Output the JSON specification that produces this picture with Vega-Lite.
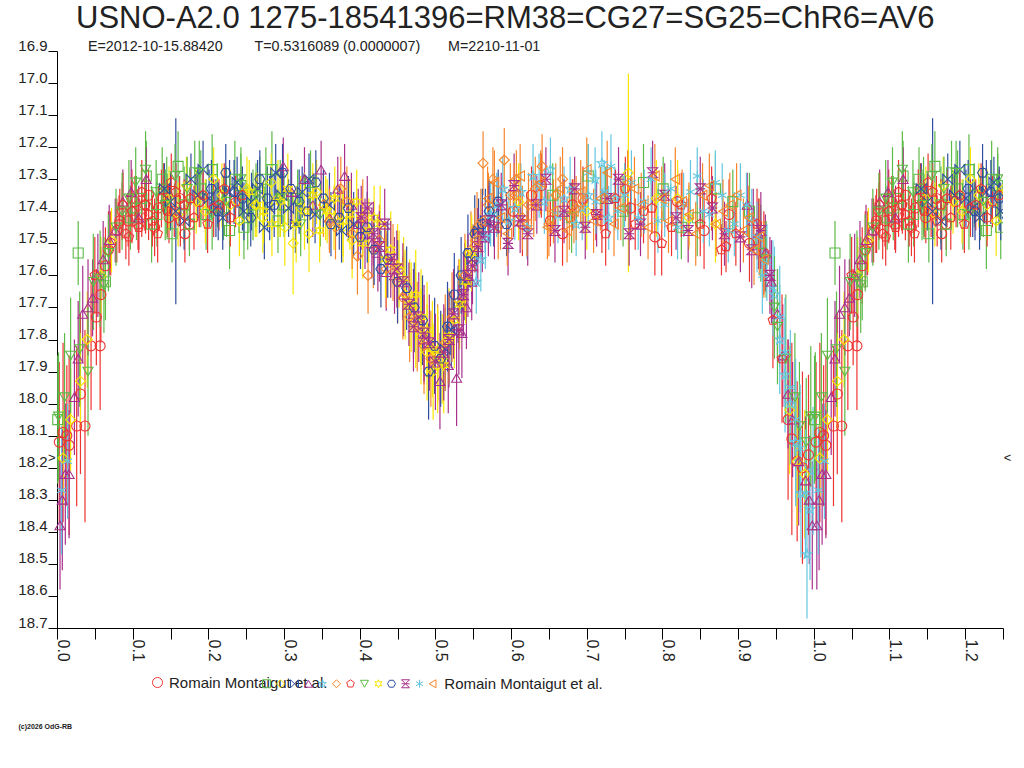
{
  "$schema": "https://vega.github.io/schema/vega-lite/v6.json",
  "width": 946,
  "height": 577,
  "autosize": {"type": "none"},
  "padding": {"left": 57, "top": 51, "right": 21, "bottom": 140},
  "background": "white",
  "title": {
    "text": "USNO-A2.0 1275-18541396=RM38=CG27=SG25=ChR6=AV6",
    "subtitle": "\u200b\u00a0\u00a0\u00a0E=2012-10-15.88420\u00a0\u00a0\u00a0\u00a0\u00a0\u00a0\u00a0\u00a0T=0.5316089 (0.0000007)\u00a0\u00a0\u00a0\u00a0\u00a0\u00a0\u00a0M=2210-11-01",
    "anchor": "start",
    "frame": "group",
    "dx": 19,
    "offset": -17,
    "font": "Liberation Sans",
    "fontSize": 31,
    "fontWeight": "normal",
    "color": "#222222",
    "subtitleFont": "Liberation Sans",
    "subtitleFontSize": 14.3,
    "subtitleColor": "#222222",
    "subtitlePadding": 5
  },
  "datasets": {
    "obs": [
      {"s":"s00","p":0.003,"m":18.12,"e":0.25},{"s":"s00","p":0.008,"m":18.09,"e":0.28},{"s":"s00","p":0.013,"m":18.10,"e":0.22},{"s":"s00","p":0.026,"m":18.07,"e":0.25},{"s":"s00","p":0.037,"m":18.07,"e":0.30},{"s":"s00","p":0.045,"m":17.82,"e":0.20},{"s":"s00","p":0.052,"m":17.73,"e":0.15},{"s":"s00","p":0.057,"m":17.82,"e":0.20},{"s":"s00","p":0.058,"m":17.66,"e":0.15},{"s":"s00","p":0.064,"m":17.57,"e":0.12},{"s":"s00","p":0.071,"m":17.50,"e":0.10},{"s":"s00","p":0.079,"m":17.46,"e":0.10},{"s":"s00","p":0.086,"m":17.40,"e":0.09},{"s":"s00","p":0.094,"m":17.43,"e":0.08},{"s":"s00","p":0.103,"m":17.37,"e":0.08},{"s":"s00","p":0.112,"m":17.41,"e":0.07},{"s":"s00","p":0.121,"m":17.35,"e":0.08},{"s":"s00","p":0.134,"m":17.39,"e":0.07},{"s":"s00","p":0.148,"m":17.42,"e":0.08},{"s":"s00","p":0.162,"m":17.36,"e":0.07},{"s":"s00","p":0.175,"m":17.44,"e":0.08},{"s":"s00","p":0.603,"m":17.40,"e":0.08},{"s":"s00","p":0.627,"m":17.35,"e":0.09},{"s":"s00","p":0.652,"m":17.43,"e":0.08},{"s":"s00","p":0.681,"m":17.38,"e":0.08},{"s":"s00","p":0.966,"m":18.05,"e":0.25},{"s":"s00","p":0.971,"m":18.11,"e":0.30},{"s":"s00","p":0.978,"m":18.18,"e":0.25},{"s":"s00","p":0.985,"m":18.20,"e":0.30},{"s":"s00","p":0.993,"m":18.16,"e":0.25},
      {"s":"s00","p":0.016,"m":18.13,"e":0.28},{"s":"s00","p":0.031,"m":17.97,"e":0.25},{"s":"s00","p":0.068,"m":17.52,"e":0.12},{"s":"s00","p":0.083,"m":17.43,"e":0.10},{"s":"s00","p":0.099,"m":17.36,"e":0.09},{"s":"s00","p":0.107,"m":17.44,"e":0.08},{"s":"s00","p":0.116,"m":17.38,"e":0.08},{"s":"s00","p":0.129,"m":17.45,"e":0.09},{"s":"s00","p":0.141,"m":17.33,"e":0.08},{"s":"s00","p":0.155,"m":17.40,"e":0.08},{"s":"s00","p":0.169,"m":17.47,"e":0.09},{"s":"s00","p":0.188,"m":17.37,"e":0.08},{"s":"s00","p":0.615,"m":17.44,"e":0.10},{"s":"s00","p":0.640,"m":17.32,"e":0.10},{"s":"s00","p":0.668,"m":17.47,"e":0.10},{"s":"s00","p":0.695,"m":17.36,"e":0.10},{"s":"s00","p":0.720,"m":17.43,"e":0.10},{"s":"s00","p":0.758,"m":17.39,"e":0.10},{"s":"s00","p":0.790,"m":17.48,"e":0.12},{"s":"s00","p":0.820,"m":17.37,"e":0.10},{"s":"s00","p":0.855,"m":17.46,"e":0.12},{"s":"s00","p":0.888,"m":17.41,"e":0.11},{"s":"s00","p":0.915,"m":17.50,"e":0.12},{"s":"s00","p":0.934,"m":17.53,"e":0.13},
      {"s":"s01","p":0.001,"m":18.05,"e":0.20},{"s":"s01","p":0.028,"m":17.53,"e":0.10},{"s":"s01","p":0.064,"m":17.62,"e":0.12},{"s":"s01","p":0.097,"m":17.42,"e":0.10},{"s":"s01","p":0.112,"m":17.36,"e":0.09},{"s":"s01","p":0.125,"m":17.44,"e":0.12},{"s":"s01","p":0.139,"m":17.30,"e":0.10},{"s":"s01","p":0.152,"m":17.47,"e":0.09},{"s":"s01","p":0.168,"m":17.38,"e":0.12},{"s":"s01","p":0.182,"m":17.28,"e":0.10},{"s":"s01","p":0.197,"m":17.41,"e":0.11},{"s":"s01","p":0.212,"m":17.35,"e":0.10},{"s":"s01","p":0.228,"m":17.46,"e":0.12},{"s":"s01","p":0.243,"m":17.32,"e":0.10},{"s":"s01","p":0.247,"m":17.45,"e":0.10},{"s":"s01","p":0.259,"m":17.38,"e":0.11},{"s":"s01","p":0.276,"m":17.30,"e":0.10},{"s":"s01","p":0.292,"m":17.43,"e":0.10},{"s":"s01","p":0.318,"m":17.36,"e":0.09},{"s":"s01","p":0.655,"m":17.35,"e":0.10},{"s":"s01","p":0.702,"m":17.29,"e":0.10},{"s":"s01","p":0.748,"m":17.40,"e":0.11},{"s":"s01","p":0.801,"m":17.33,"e":0.10},{"s":"s01","p":0.846,"m":17.42,"e":0.12},{"s":"s01","p":0.893,"m":17.37,"e":0.10},
      {"s":"s01","p":0.105,"m":17.39,"e":0.10},{"s":"s01","p":0.118,"m":17.29,"e":0.11},{"s":"s01","p":0.132,"m":17.41,"e":0.10},{"s":"s01","p":0.145,"m":17.35,"e":0.12},{"s":"s01","p":0.160,"m":17.26,"e":0.11},{"s":"s01","p":0.175,"m":17.44,"e":0.10},{"s":"s01","p":0.190,"m":17.33,"e":0.12},{"s":"s01","p":0.205,"m":17.27,"e":0.11},{"s":"s01","p":0.220,"m":17.39,"e":0.10},{"s":"s01","p":0.235,"m":17.30,"e":0.12},{"s":"s01","p":0.252,"m":17.42,"e":0.10},{"s":"s01","p":0.268,"m":17.34,"e":0.11},{"s":"s01","p":0.284,"m":17.27,"e":0.12},{"s":"s01","p":0.300,"m":17.38,"e":0.10},{"s":"s01","p":0.335,"m":17.31,"e":0.10},{"s":"s01","p":0.680,"m":17.42,"e":0.11},{"s":"s01","p":0.725,"m":17.36,"e":0.10},{"s":"s01","p":0.775,"m":17.31,"e":0.12},{"s":"s01","p":0.825,"m":17.45,"e":0.10},{"s":"s01","p":0.870,"m":17.33,"e":0.11},{"s":"s01","p":0.915,"m":17.40,"e":0.12},{"s":"s01","p":0.930,"m":17.50,"e":0.12},
      {"s":"s02","p":0.008,"m":18.17,"e":0.15},{"s":"s02","p":0.031,"m":17.93,"e":0.15},{"s":"s02","p":0.072,"m":17.49,"e":0.10},{"s":"s02","p":0.148,"m":17.36,"e":0.10},{"s":"s02","p":0.171,"m":17.32,"e":0.09},{"s":"s02","p":0.196,"m":17.40,"e":0.10},{"s":"s02","p":0.218,"m":17.35,"e":0.10},{"s":"s02","p":0.241,"m":17.43,"e":0.11},{"s":"s02","p":0.262,"m":17.38,"e":0.10},{"s":"s02","p":0.283,"m":17.31,"e":0.09},{"s":"s02","p":0.301,"m":17.45,"e":0.12},{"s":"s02","p":0.312,"m":17.50,"e":0.16},{"s":"s02","p":0.322,"m":17.39,"e":0.10},{"s":"s02","p":0.343,"m":17.34,"e":0.10},{"s":"s02","p":0.366,"m":17.42,"e":0.10},{"s":"s02","p":0.452,"m":17.58,"e":0.12},{"s":"s02","p":0.468,"m":17.70,"e":0.14},{"s":"s02","p":0.481,"m":17.79,"e":0.15},{"s":"s02","p":0.497,"m":17.90,"e":0.15},{"s":"s02","p":0.509,"m":17.86,"e":0.14},{"s":"s02","p":0.755,"m":17.28,"e":0.31},{"s":"s02","p":0.792,"m":17.36,"e":0.12},{"s":"s02","p":0.835,"m":17.42,"e":0.10},{"s":"s02","p":0.968,"m":18.02,"e":0.20},{"s":"s02","p":0.988,"m":18.22,"e":0.20},
      {"s":"s02","p":0.018,"m":18.05,"e":0.16},{"s":"s02","p":0.040,"m":17.80,"e":0.15},{"s":"s02","p":0.058,"m":17.60,"e":0.12},{"s":"s02","p":0.160,"m":17.41,"e":0.10},{"s":"s02","p":0.184,"m":17.37,"e":0.10},{"s":"s02","p":0.207,"m":17.30,"e":0.10},{"s":"s02","p":0.229,"m":17.38,"e":0.11},{"s":"s02","p":0.251,"m":17.33,"e":0.10},{"s":"s02","p":0.272,"m":17.42,"e":0.11},{"s":"s02","p":0.292,"m":17.36,"e":0.12},{"s":"s02","p":0.333,"m":17.47,"e":0.12},{"s":"s02","p":0.355,"m":17.39,"e":0.10},{"s":"s02","p":0.378,"m":17.45,"e":0.11},{"s":"s02","p":0.390,"m":17.49,"e":0.12},{"s":"s02","p":0.460,"m":17.66,"e":0.14},{"s":"s02","p":0.474,"m":17.74,"e":0.15},{"s":"s02","p":0.489,"m":17.84,"e":0.15},{"s":"s02","p":0.503,"m":17.88,"e":0.15},{"s":"s02","p":0.517,"m":17.80,"e":0.14},{"s":"s02","p":0.610,"m":17.37,"e":0.12},{"s":"s02","p":0.700,"m":17.40,"e":0.12},{"s":"s02","p":0.820,"m":17.36,"e":0.12},{"s":"s02","p":0.870,"m":17.44,"e":0.12},{"s":"s02","p":0.978,"m":18.18,"e":0.20},
      {"s":"s03","p":0.142,"m":17.33,"e":0.08},{"s":"s03","p":0.157,"m":17.40,"e":0.29},{"s":"s03","p":0.177,"m":17.30,"e":0.08},{"s":"s03","p":0.201,"m":17.36,"e":0.09},{"s":"s03","p":0.219,"m":17.42,"e":0.10},{"s":"s03","p":0.238,"m":17.31,"e":0.08},{"s":"s03","p":0.257,"m":17.37,"e":0.09},{"s":"s03","p":0.274,"m":17.45,"e":0.10},{"s":"s03","p":0.289,"m":17.28,"e":0.09},{"s":"s03","p":0.306,"m":17.39,"e":0.09},{"s":"s03","p":0.324,"m":17.34,"e":0.08},{"s":"s03","p":0.341,"m":17.41,"e":0.09},{"s":"s03","p":0.392,"m":17.44,"e":0.10},{"s":"s03","p":0.521,"m":17.77,"e":0.12},{"s":"s03","p":0.539,"m":17.62,"e":0.12},{"s":"s03","p":0.557,"m":17.46,"e":0.10},{"s":"s03","p":0.577,"m":17.41,"e":0.10},
      {"s":"s03","p":0.150,"m":17.37,"e":0.09},{"s":"s03","p":0.168,"m":17.43,"e":0.09},{"s":"s03","p":0.186,"m":17.35,"e":0.08},{"s":"s03","p":0.193,"m":17.27,"e":0.09},{"s":"s03","p":0.210,"m":17.39,"e":0.09},{"s":"s03","p":0.228,"m":17.34,"e":0.10},{"s":"s03","p":0.247,"m":17.40,"e":0.09},{"s":"s03","p":0.265,"m":17.33,"e":0.09},{"s":"s03","p":0.281,"m":17.39,"e":0.10},{"s":"s03","p":0.297,"m":17.35,"e":0.09},{"s":"s03","p":0.315,"m":17.44,"e":0.09},{"s":"s03","p":0.333,"m":17.30,"e":0.08},{"s":"s03","p":0.360,"m":17.38,"e":0.10},{"s":"s03","p":0.376,"m":17.46,"e":0.10},{"s":"s03","p":0.513,"m":17.83,"e":0.13},{"s":"s03","p":0.530,"m":17.69,"e":0.12},{"s":"s03","p":0.548,"m":17.55,"e":0.11},{"s":"s03","p":0.566,"m":17.43,"e":0.10},
      {"s":"s04","p":0.004,"m":18.38,"e":0.20},{"s":"s04","p":0.011,"m":18.22,"e":0.22},{"s":"s04","p":0.016,"m":18.22,"e":0.20},{"s":"s04","p":0.023,"m":17.98,"e":0.18},{"s":"s04","p":0.034,"m":17.72,"e":0.15},{"s":"s04","p":0.047,"m":17.67,"e":0.12},{"s":"s04","p":0.061,"m":17.55,"e":0.12},{"s":"s04","p":0.077,"m":17.46,"e":0.10},{"s":"s04","p":0.098,"m":17.34,"e":0.10},{"s":"s04","p":0.118,"m":17.30,"e":0.10},{"s":"s04","p":0.299,"m":17.26,"e":0.09},{"s":"s04","p":0.327,"m":17.30,"e":0.10},{"s":"s04","p":0.349,"m":17.27,"e":0.09},{"s":"s04","p":0.371,"m":17.33,"e":0.10},{"s":"s04","p":0.389,"m":17.38,"e":0.10},{"s":"s04","p":0.407,"m":17.47,"e":0.11},{"s":"s04","p":0.424,"m":17.53,"e":0.12},{"s":"s04","p":0.446,"m":17.60,"e":0.12},{"s":"s04","p":0.471,"m":17.72,"e":0.14},{"s":"s04","p":0.506,"m":17.93,"e":0.15},{"s":"s04","p":0.528,"m":17.92,"e":0.15},{"s":"s04","p":0.541,"m":17.70,"e":0.13},{"s":"s04","p":0.912,"m":17.38,"e":0.10},{"s":"s04","p":0.927,"m":17.47,"e":0.11},{"s":"s04","p":0.944,"m":17.62,"e":0.13},{"s":"s04","p":0.959,"m":17.85,"e":0.16},{"s":"s04","p":0.972,"m":18.05,"e":0.18},{"s":"s04","p":0.989,"m":18.24,"e":0.20},{"s":"s04","p":0.998,"m":18.38,"e":0.20},
      {"s":"s04","p":0.007,"m":18.30,"e":0.22},{"s":"s04","p":0.028,"m":17.86,"e":0.18},{"s":"s04","p":0.041,"m":17.70,"e":0.15},{"s":"s04","p":0.054,"m":17.60,"e":0.13},{"s":"s04","p":0.069,"m":17.49,"e":0.11},{"s":"s04","p":0.087,"m":17.37,"e":0.10},{"s":"s04","p":0.108,"m":17.42,"e":0.10},{"s":"s04","p":0.310,"m":17.34,"e":0.10},{"s":"s04","p":0.338,"m":17.38,"e":0.10},{"s":"s04","p":0.360,"m":17.42,"e":0.10},{"s":"s04","p":0.380,"m":17.29,"e":0.10},{"s":"s04","p":0.398,"m":17.44,"e":0.11},{"s":"s04","p":0.416,"m":17.50,"e":0.11},{"s":"s04","p":0.435,"m":17.59,"e":0.12},{"s":"s04","p":0.458,"m":17.66,"e":0.13},{"s":"s04","p":0.485,"m":17.80,"e":0.14},{"s":"s04","p":0.517,"m":17.88,"e":0.15},{"s":"s04","p":0.535,"m":17.78,"e":0.14},{"s":"s04","p":0.548,"m":17.62,"e":0.12},{"s":"s04","p":0.920,"m":17.43,"e":0.10},{"s":"s04","p":0.936,"m":17.53,"e":0.12},{"s":"s04","p":0.952,"m":17.72,"e":0.14},{"s":"s04","p":0.966,"m":17.97,"e":0.17},{"s":"s04","p":0.980,"m":18.18,"e":0.20},{"s":"s04","p":0.994,"m":18.30,"e":0.20},
      {"s":"s05","p":0.554,"m":17.62,"e":0.10},{"s":"s05","p":0.566,"m":17.48,"e":0.10},{"s":"s05","p":0.581,"m":17.38,"e":0.10},{"s":"s05","p":0.597,"m":17.43,"e":0.10},{"s":"s05","p":0.613,"m":17.34,"e":0.09},{"s":"s05","p":0.629,"m":17.29,"e":0.10},{"s":"s05","p":0.644,"m":17.37,"e":0.10},{"s":"s05","p":0.662,"m":17.41,"e":0.09},{"s":"s05","p":0.678,"m":17.33,"e":0.10},{"s":"s05","p":0.694,"m":17.39,"e":0.10},{"s":"s05","p":0.711,"m":17.30,"e":0.10},{"s":"s05","p":0.729,"m":17.42,"e":0.10},{"s":"s05","p":0.948,"m":17.66,"e":0.15},{"s":"s05","p":0.962,"m":17.91,"e":0.18},{"s":"s05","p":0.976,"m":18.12,"e":0.20},{"s":"s05","p":0.991,"m":18.47,"e":0.20},{"s":"s05","p":0.995,"m":18.33,"e":0.22},{"s":"s05","p":0.999,"m":18.21,"e":0.20},
      {"s":"s05","p":0.560,"m":17.55,"e":0.10},{"s":"s05","p":0.573,"m":17.41,"e":0.10},{"s":"s05","p":0.589,"m":17.33,"e":0.10},{"s":"s05","p":0.605,"m":17.39,"e":0.10},{"s":"s05","p":0.621,"m":17.45,"e":0.10},{"s":"s05","p":0.637,"m":17.32,"e":0.10},{"s":"s05","p":0.652,"m":17.27,"e":0.10},{"s":"s05","p":0.670,"m":17.36,"e":0.10},{"s":"s05","p":0.686,"m":17.44,"e":0.10},{"s":"s05","p":0.702,"m":17.35,"e":0.10},{"s":"s05","p":0.720,"m":17.25,"e":0.10},{"s":"s05","p":0.737,"m":17.36,"e":0.10},{"s":"s05","p":0.955,"m":17.80,"e":0.17},{"s":"s05","p":0.969,"m":18.00,"e":0.19},{"s":"s05","p":0.983,"m":18.28,"e":0.20},
      {"s":"s06","p":0.352,"m":17.38,"e":0.10},{"s":"s06","p":0.368,"m":17.45,"e":0.10},{"s":"s06","p":0.383,"m":17.37,"e":0.11},{"s":"s06","p":0.397,"m":17.54,"e":0.12},{"s":"s06","p":0.411,"m":17.60,"e":0.12},{"s":"s06","p":0.426,"m":17.49,"e":0.11},{"s":"s06","p":0.444,"m":17.56,"e":0.12},{"s":"s06","p":0.457,"m":17.67,"e":0.13},{"s":"s06","p":0.476,"m":17.76,"e":0.14},{"s":"s06","p":0.494,"m":17.86,"e":0.15},{"s":"s06","p":0.513,"m":17.81,"e":0.15},{"s":"s06","p":0.531,"m":17.68,"e":0.13},{"s":"s06","p":0.547,"m":17.52,"e":0.12},{"s":"s06","p":0.563,"m":17.25,"e":0.10},{"s":"s06","p":0.576,"m":17.30,"e":0.10},{"s":"s06","p":0.591,"m":17.24,"e":0.10},{"s":"s06","p":0.607,"m":17.30,"e":0.09},{"s":"s06","p":0.623,"m":17.38,"e":0.10},{"s":"s06","p":0.641,"m":17.26,"e":0.10},{"s":"s06","p":0.659,"m":17.35,"e":0.10},{"s":"s06","p":0.677,"m":17.42,"e":0.10},{"s":"s06","p":0.695,"m":17.37,"e":0.10},
      {"s":"s06","p":0.360,"m":17.43,"e":0.10},{"s":"s06","p":0.375,"m":17.33,"e":0.10},{"s":"s06","p":0.390,"m":17.47,"e":0.11},{"s":"s06","p":0.404,"m":17.42,"e":0.12},{"s":"s06","p":0.418,"m":17.52,"e":0.12},{"s":"s06","p":0.435,"m":17.58,"e":0.12},{"s":"s06","p":0.450,"m":17.62,"e":0.13},{"s":"s06","p":0.466,"m":17.73,"e":0.14},{"s":"s06","p":0.485,"m":17.82,"e":0.15},{"s":"s06","p":0.503,"m":17.84,"e":0.15},{"s":"s06","p":0.522,"m":17.73,"e":0.14},{"s":"s06","p":0.539,"m":17.60,"e":0.13},{"s":"s06","p":0.555,"m":17.45,"e":0.11},{"s":"s06","p":0.570,"m":17.38,"e":0.10},{"s":"s06","p":0.583,"m":17.45,"e":0.10},{"s":"s06","p":0.599,"m":17.35,"e":0.10},{"s":"s06","p":0.615,"m":17.42,"e":0.10},{"s":"s06","p":0.632,"m":17.33,"e":0.10},{"s":"s06","p":0.650,"m":17.44,"e":0.10},{"s":"s06","p":0.668,"m":17.30,"e":0.10},{"s":"s06","p":0.686,"m":17.39,"e":0.10},
      {"s":"s07","p":0.050,"m":17.60,"e":0.12},{"s":"s07","p":0.082,"m":17.44,"e":0.09},{"s":"s07","p":0.091,"m":17.47,"e":0.08},{"s":"s07","p":0.099,"m":17.40,"e":0.10},{"s":"s07","p":0.108,"m":17.45,"e":0.08},{"s":"s07","p":0.117,"m":17.38,"e":0.09},{"s":"s07","p":0.126,"m":17.43,"e":0.08},{"s":"s07","p":0.138,"m":17.36,"e":0.09},{"s":"s07","p":0.146,"m":17.40,"e":0.08},{"s":"s07","p":0.157,"m":17.34,"e":0.09},{"s":"s07","p":0.168,"m":17.38,"e":0.08},{"s":"s07","p":0.181,"m":17.42,"e":0.10},{"s":"s07","p":0.193,"m":17.35,"e":0.08},{"s":"s07","p":0.207,"m":17.39,"e":0.09},{"s":"s07","p":0.221,"m":17.33,"e":0.08},{"s":"s07","p":0.236,"m":17.37,"e":0.08},{"s":"s07","p":0.712,"m":17.41,"e":0.08},{"s":"s07","p":0.738,"m":17.36,"e":0.09},{"s":"s07","p":0.764,"m":17.44,"e":0.08},{"s":"s07","p":0.786,"m":17.39,"e":0.08},{"s":"s07","p":0.812,"m":17.45,"e":0.09},{"s":"s07","p":0.878,"m":17.52,"e":0.08},{"s":"s07","p":0.884,"m":17.51,"e":0.08},{"s":"s07","p":0.946,"m":17.74,"e":0.15},{"s":"s07","p":0.958,"m":17.86,"e":0.20},
      {"s":"s07","p":0.087,"m":17.38,"e":0.10},{"s":"s07","p":0.095,"m":17.48,"e":0.09},{"s":"s07","p":0.112,"m":17.34,"e":0.10},{"s":"s07","p":0.121,"m":17.41,"e":0.08},{"s":"s07","p":0.133,"m":17.47,"e":0.09},{"s":"s07","p":0.151,"m":17.31,"e":0.09},{"s":"s07","p":0.163,"m":17.43,"e":0.08},{"s":"s07","p":0.176,"m":17.36,"e":0.09},{"s":"s07","p":0.199,"m":17.44,"e":0.09},{"s":"s07","p":0.214,"m":17.38,"e":0.08},{"s":"s07","p":0.229,"m":17.42,"e":0.09},{"s":"s07","p":0.245,"m":17.35,"e":0.08},{"s":"s07","p":0.725,"m":17.47,"e":0.10},{"s":"s07","p":0.751,"m":17.33,"e":0.10},{"s":"s07","p":0.775,"m":17.40,"e":0.10},{"s":"s07","p":0.799,"m":17.50,"e":0.10},{"s":"s07","p":0.825,"m":17.38,"e":0.10},{"s":"s07","p":0.850,"m":17.44,"e":0.10},{"s":"s07","p":0.865,"m":17.36,"e":0.10},{"s":"s07","p":0.897,"m":17.47,"e":0.10},{"s":"s07","p":0.925,"m":17.44,"e":0.11},
      {"s":"s08","p":0.002,"m":18.04,"e":0.20},{"s":"s08","p":0.018,"m":17.85,"e":0.18},{"s":"s08","p":0.041,"m":17.90,"e":0.20},{"s":"s08","p":0.048,"m":17.62,"e":0.15},{"s":"s08","p":0.062,"m":17.63,"e":0.15},{"s":"s08","p":0.068,"m":17.53,"e":0.12},{"s":"s08","p":0.086,"m":17.40,"e":0.12},{"s":"s08","p":0.104,"m":17.31,"e":0.11},{"s":"s08","p":0.131,"m":17.34,"e":0.10},{"s":"s08","p":0.156,"m":17.29,"e":0.10},{"s":"s08","p":0.188,"m":17.28,"e":0.10},{"s":"s08","p":0.224,"m":17.37,"e":0.11},{"s":"s08","p":0.263,"m":17.35,"e":0.10},{"s":"s08","p":0.348,"m":17.41,"e":0.10},{"s":"s08","p":0.937,"m":17.55,"e":0.12},{"s":"s08","p":0.952,"m":17.76,"e":0.18},{"s":"s08","p":0.963,"m":17.86,"e":0.20},{"s":"s08","p":0.981,"m":18.07,"e":0.20},{"s":"s08","p":0.996,"m":18.04,"e":0.22},
      {"s":"s08","p":0.010,"m":17.98,"e":0.20},{"s":"s08","p":0.030,"m":17.83,"e":0.18},{"s":"s08","p":0.057,"m":17.61,"e":0.15},{"s":"s08","p":0.078,"m":17.45,"e":0.12},{"s":"s08","p":0.095,"m":17.36,"e":0.12},{"s":"s08","p":0.117,"m":17.27,"e":0.12},{"s":"s08","p":0.143,"m":17.38,"e":0.11},{"s":"s08","p":0.172,"m":17.33,"e":0.10},{"s":"s08","p":0.205,"m":17.41,"e":0.11},{"s":"s08","p":0.243,"m":17.30,"e":0.10},{"s":"s08","p":0.295,"m":17.36,"e":0.12},{"s":"s08","p":0.322,"m":17.44,"e":0.10},{"s":"s08","p":0.948,"m":17.70,"e":0.16},{"s":"s08","p":0.975,"m":17.98,"e":0.20},{"s":"s08","p":0.990,"m":18.12,"e":0.20},
      {"s":"s09","p":0.254,"m":17.34,"e":0.10},{"s":"s09","p":0.273,"m":17.40,"e":0.10},{"s":"s09","p":0.295,"m":17.37,"e":0.11},{"s":"s09","p":0.316,"m":17.44,"e":0.12},{"s":"s09","p":0.338,"m":17.35,"e":0.10},{"s":"s09","p":0.357,"m":17.40,"e":0.10},{"s":"s09","p":0.378,"m":17.43,"e":0.11},{"s":"s09","p":0.396,"m":17.37,"e":0.10},{"s":"s09","p":0.412,"m":17.46,"e":0.10},{"s":"s09","p":0.427,"m":17.44,"e":0.12},{"s":"s09","p":0.441,"m":17.52,"e":0.12},{"s":"s09","p":0.458,"m":17.61,"e":0.13},{"s":"s09","p":0.474,"m":17.66,"e":0.14},{"s":"s09","p":0.489,"m":17.77,"e":0.15},{"s":"s09","p":0.503,"m":17.85,"e":0.15},{"s":"s09","p":0.518,"m":17.79,"e":0.15},{"s":"s09","p":0.532,"m":17.69,"e":0.14},{"s":"s09","p":0.548,"m":17.53,"e":0.12},
      {"s":"s09","p":0.264,"m":17.38,"e":0.10},{"s":"s09","p":0.284,"m":17.44,"e":0.10},{"s":"s09","p":0.305,"m":17.33,"e":0.11},{"s":"s09","p":0.327,"m":17.40,"e":0.12},{"s":"s09","p":0.347,"m":17.46,"e":0.10},{"s":"s09","p":0.367,"m":17.36,"e":0.10},{"s":"s09","p":0.387,"m":17.41,"e":0.11},{"s":"s09","p":0.404,"m":17.50,"e":0.11},{"s":"s09","p":0.419,"m":17.42,"e":0.10},{"s":"s09","p":0.434,"m":17.55,"e":0.12},{"s":"s09","p":0.450,"m":17.57,"e":0.13},{"s":"s09","p":0.466,"m":17.69,"e":0.14},{"s":"s09","p":0.481,"m":17.73,"e":0.15},{"s":"s09","p":0.496,"m":17.83,"e":0.15},{"s":"s09","p":0.511,"m":17.88,"e":0.15},{"s":"s09","p":0.525,"m":17.74,"e":0.15},{"s":"s09","p":0.540,"m":17.62,"e":0.13},
      {"s":"s10","p":0.204,"m":17.33,"e":0.09},{"s":"s10","p":0.223,"m":17.28,"e":0.09},{"s":"s10","p":0.245,"m":17.36,"e":0.10},{"s":"s10","p":0.268,"m":17.30,"e":0.09},{"s":"s10","p":0.287,"m":17.38,"e":0.10},{"s":"s10","p":0.309,"m":17.33,"e":0.09},{"s":"s10","p":0.331,"m":17.40,"e":0.10},{"s":"s10","p":0.352,"m":17.36,"e":0.09},{"s":"s10","p":0.373,"m":17.42,"e":0.10},{"s":"s10","p":0.401,"m":17.48,"e":0.10},{"s":"s10","p":0.419,"m":17.52,"e":0.11},{"s":"s10","p":0.437,"m":17.55,"e":0.12},{"s":"s10","p":0.462,"m":17.64,"e":0.13},{"s":"s10","p":0.483,"m":17.74,"e":0.14},{"s":"s10","p":0.499,"m":17.82,"e":0.15},{"s":"s10","p":0.516,"m":17.76,"e":0.14},{"s":"s10","p":0.534,"m":17.60,"e":0.12},{"s":"s10","p":0.552,"m":17.47,"e":0.12},{"s":"s10","p":0.571,"m":17.40,"e":0.10},{"s":"s10","p":0.594,"m":17.44,"e":0.10},
      {"s":"s10","p":0.213,"m":17.40,"e":0.09},{"s":"s10","p":0.234,"m":17.34,"e":0.10},{"s":"s10","p":0.256,"m":17.42,"e":0.09},{"s":"s10","p":0.278,"m":17.36,"e":0.10},{"s":"s10","p":0.298,"m":17.28,"e":0.09},{"s":"s10","p":0.320,"m":17.37,"e":0.10},{"s":"s10","p":0.342,"m":17.31,"e":0.10},{"s":"s10","p":0.362,"m":17.44,"e":0.10},{"s":"s10","p":0.385,"m":17.39,"e":0.10},{"s":"s10","p":0.410,"m":17.45,"e":0.11},{"s":"s10","p":0.428,"m":17.58,"e":0.12},{"s":"s10","p":0.450,"m":17.62,"e":0.13},{"s":"s10","p":0.472,"m":17.70,"e":0.14},{"s":"s10","p":0.491,"m":17.90,"e":0.15},{"s":"s10","p":0.507,"m":17.86,"e":0.15},{"s":"s10","p":0.525,"m":17.66,"e":0.13},{"s":"s10","p":0.543,"m":17.53,"e":0.12},{"s":"s10","p":0.562,"m":17.44,"e":0.11},{"s":"s10","p":0.583,"m":17.37,"e":0.10},
      {"s":"s11","p":0.402,"m":17.42,"e":0.10},{"s":"s11","p":0.418,"m":17.47,"e":0.10},{"s":"s11","p":0.433,"m":17.44,"e":0.11},{"s":"s11","p":0.449,"m":17.58,"e":0.12},{"s":"s11","p":0.465,"m":17.69,"e":0.13},{"s":"s11","p":0.478,"m":17.73,"e":0.14},{"s":"s11","p":0.492,"m":17.81,"e":0.15},{"s":"s11","p":0.511,"m":17.84,"e":0.15},{"s":"s11","p":0.524,"m":17.72,"e":0.14},{"s":"s11","p":0.537,"m":17.66,"e":0.13},{"s":"s11","p":0.549,"m":17.57,"e":0.12},{"s":"s11","p":0.562,"m":17.48,"e":0.11},{"s":"s11","p":0.578,"m":17.45,"e":0.10},{"s":"s11","p":0.596,"m":17.50,"e":0.10},{"s":"s11","p":0.612,"m":17.43,"e":0.10},{"s":"s11","p":0.634,"m":17.38,"e":0.09},{"s":"s11","p":0.658,"m":17.46,"e":0.10},{"s":"s11","p":0.684,"m":17.33,"e":0.10},{"s":"s11","p":0.713,"m":17.41,"e":0.10},{"s":"s11","p":0.742,"m":17.30,"e":0.10},{"s":"s11","p":0.771,"m":17.44,"e":0.10},{"s":"s11","p":0.803,"m":17.35,"e":0.10},{"s":"s11","p":0.834,"m":17.46,"e":0.10},{"s":"s11","p":0.866,"m":17.39,"e":0.10},{"s":"s11","p":0.903,"m":17.48,"e":0.11},{"s":"s11","p":0.942,"m":17.60,"e":0.12},
      {"s":"s11","p":0.410,"m":17.39,"e":0.10},{"s":"s11","p":0.426,"m":17.51,"e":0.11},{"s":"s11","p":0.441,"m":17.55,"e":0.12},{"s":"s11","p":0.457,"m":17.62,"e":0.12},{"s":"s11","p":0.471,"m":17.76,"e":0.14},{"s":"s11","p":0.485,"m":17.78,"e":0.15},{"s":"s11","p":0.500,"m":17.87,"e":0.15},{"s":"s11","p":0.518,"m":17.80,"e":0.15},{"s":"s11","p":0.531,"m":17.77,"e":0.14},{"s":"s11","p":0.543,"m":17.60,"e":0.13},{"s":"s11","p":0.556,"m":17.51,"e":0.12},{"s":"s11","p":0.570,"m":17.43,"e":0.11},{"s":"s11","p":0.587,"m":17.38,"e":0.10},{"s":"s11","p":0.604,"m":17.32,"e":0.10},{"s":"s11","p":0.622,"m":17.47,"e":0.10},{"s":"s11","p":0.646,"m":17.30,"e":0.10},{"s":"s11","p":0.670,"m":17.40,"e":0.10},{"s":"s11","p":0.698,"m":17.45,"e":0.10},{"s":"s11","p":0.727,"m":17.36,"e":0.10},{"s":"s11","p":0.756,"m":17.47,"e":0.10},{"s":"s11","p":0.787,"m":17.28,"e":0.10},{"s":"s11","p":0.818,"m":17.42,"e":0.10},{"s":"s11","p":0.850,"m":17.33,"e":0.10},{"s":"s11","p":0.882,"m":17.47,"e":0.10},{"s":"s11","p":0.918,"m":17.52,"e":0.12},{"s":"s11","p":0.930,"m":17.46,"e":0.12},
      {"s":"s12","p":0.006,"m":18.27,"e":0.20},{"s":"s12","p":0.014,"m":18.18,"e":0.18},{"s":"s12","p":0.702,"m":17.28,"e":0.09},{"s":"s12","p":0.723,"m":17.34,"e":0.10},{"s":"s12","p":0.741,"m":17.40,"e":0.09},{"s":"s12","p":0.759,"m":17.31,"e":0.10},{"s":"s12","p":0.776,"m":17.37,"e":0.10},{"s":"s12","p":0.794,"m":17.43,"e":0.10},{"s":"s12","p":0.811,"m":17.33,"e":0.09},{"s":"s12","p":0.828,"m":17.38,"e":0.10},{"s":"s12","p":0.846,"m":17.29,"e":0.09},{"s":"s12","p":0.862,"m":17.41,"e":0.10},{"s":"s12","p":0.879,"m":17.35,"e":0.10},{"s":"s12","p":0.895,"m":17.44,"e":0.10},{"s":"s12","p":0.911,"m":17.38,"e":0.10},{"s":"s12","p":0.925,"m":17.48,"e":0.11},{"s":"s12","p":0.938,"m":17.56,"e":0.12},{"s":"s12","p":0.955,"m":17.73,"e":0.16},{"s":"s12","p":0.969,"m":17.95,"e":0.18},{"s":"s12","p":0.982,"m":18.14,"e":0.20},
      {"s":"s12","p":0.712,"m":17.37,"e":0.10},{"s":"s12","p":0.732,"m":17.26,"e":0.10},{"s":"s12","p":0.750,"m":17.35,"e":0.10},{"s":"s12","p":0.768,"m":17.42,"e":0.10},{"s":"s12","p":0.785,"m":17.30,"e":0.10},{"s":"s12","p":0.803,"m":17.38,"e":0.10},{"s":"s12","p":0.820,"m":17.45,"e":0.10},{"s":"s12","p":0.837,"m":17.34,"e":0.10},{"s":"s12","p":0.854,"m":17.40,"e":0.10},{"s":"s12","p":0.870,"m":17.31,"e":0.10},{"s":"s12","p":0.887,"m":17.46,"e":0.10},{"s":"s12","p":0.903,"m":17.35,"e":0.10},{"s":"s12","p":0.918,"m":17.43,"e":0.10},{"s":"s12","p":0.932,"m":17.60,"e":0.12},{"s":"s12","p":0.946,"m":17.64,"e":0.15},{"s":"s12","p":0.962,"m":17.84,"e":0.17},{"s":"s12","p":0.976,"m":18.05,"e":0.19},{"s":"s12","p":0.989,"m":18.28,"e":0.20},
      {"s":"s13","p":0.552,"m":17.49,"e":0.10},{"s":"s13","p":0.569,"m":17.36,"e":0.10},{"s":"s13","p":0.586,"m":17.42,"e":0.10},{"s":"s13","p":0.604,"m":17.35,"e":0.10},{"s":"s13","p":0.621,"m":17.44,"e":0.10},{"s":"s13","p":0.639,"m":17.31,"e":0.10},{"s":"s13","p":0.656,"m":17.40,"e":0.10},{"s":"s13","p":0.674,"m":17.46,"e":0.10},{"s":"s13","p":0.692,"m":17.34,"e":0.10},{"s":"s13","p":0.709,"m":17.43,"e":0.10},{"s":"s13","p":0.727,"m":17.28,"e":0.10},{"s":"s13","p":0.745,"m":17.39,"e":0.10},{"s":"s13","p":0.763,"m":17.33,"e":0.10},{"s":"s13","p":0.781,"m":17.45,"e":0.10},{"s":"s13","p":0.799,"m":17.36,"e":0.10},{"s":"s13","p":0.817,"m":17.30,"e":0.10},{"s":"s13","p":0.835,"m":17.41,"e":0.10},{"s":"s13","p":0.853,"m":17.35,"e":0.10},{"s":"s13","p":0.871,"m":17.44,"e":0.10},{"s":"s13","p":0.889,"m":17.38,"e":0.10},{"s":"s13","p":0.907,"m":17.46,"e":0.10},{"s":"s13","p":0.921,"m":17.52,"e":0.11},{"s":"s13","p":0.934,"m":17.55,"e":0.12},
      {"s":"s13","p":0.560,"m":17.43,"e":0.10},{"s":"s13","p":0.578,"m":17.31,"e":0.10},{"s":"s13","p":0.595,"m":17.47,"e":0.10},{"s":"s13","p":0.612,"m":17.29,"e":0.10},{"s":"s13","p":0.630,"m":17.38,"e":0.10},{"s":"s13","p":0.648,"m":17.45,"e":0.10},{"s":"s13","p":0.665,"m":17.33,"e":0.10},{"s":"s13","p":0.683,"m":17.40,"e":0.10},{"s":"s13","p":0.700,"m":17.27,"e":0.10},{"s":"s13","p":0.718,"m":17.36,"e":0.10},{"s":"s13","p":0.736,"m":17.44,"e":0.10},{"s":"s13","p":0.754,"m":17.31,"e":0.10},{"s":"s13","p":0.772,"m":17.38,"e":0.10},{"s":"s13","p":0.790,"m":17.29,"e":0.10},{"s":"s13","p":0.808,"m":17.43,"e":0.10},{"s":"s13","p":0.826,"m":17.37,"e":0.10},{"s":"s13","p":0.844,"m":17.47,"e":0.10},{"s":"s13","p":0.862,"m":17.32,"e":0.10},{"s":"s13","p":0.880,"m":17.40,"e":0.10},{"s":"s13","p":0.898,"m":17.35,"e":0.10},{"s":"s13","p":0.914,"m":17.42,"e":0.10},{"s":"s13","p":0.928,"m":17.48,"e":0.12}
    ],
    "markers": [
      {"p": -0.007, "m": 18.17, "t": ">"},
      {"p": 1.256, "m": 18.17, "t": "<"}
    ]
  },
  "resolve": {"scale": {"x": "independent"}},
  "encoding": {
    "y": {
      "field": "m", "type": "quantitative",
      "scale": {"domain": [16.9, 18.7], "reverse": true, "nice": false, "zero": false},
      "axis": {
        "values": [16.9,17.0,17.1,17.2,17.3,17.4,17.5,17.6,17.7,17.8,17.9,18.0,18.1,18.2,18.3,18.4,18.5,18.6,18.7],
        "format": ".1f", "tickSize": 9, "labelPadding": 1,
        "labelBaseline": "alphabetic", "labelOffset": -1, "labelFontSize": 15,
        "labelOverlap": false, "labelFlush": false, "title": null
      }
    },
    "color": {
      "field": "s", "type": "nominal",
      "scale": {
        "domain": ["s00","s01","s02","s03","s04","s05","s06","s07","s08","s09","s10","s11","s12","s13"],
        "range": ["#ee3431","#5cba47","#f7e600","#2f4da0","#a8308c","#62c6e0","#f7862b","#ee3431","#5cba47","#f7e600","#2f4da0","#a8308c","#62c6e0","#f7862b"]
      },
      "legend": {
        "title": null, "orient": "none", "legendX": 93, "legendY": 624, "direction": "horizontal",
        "values": ["s00"],
        "labelExpr": "'Romain Montaigut et al.'",
        "labelFontSize": 15, "labelLimit": 400, "symbolSize": 100, "symbolStrokeWidth": 1, "symbolType": "circle", "labelOffset": 4
      }
    }
  },
  "layer": [
    {
      "data": {"name": "obs"},
      "encoding": {
        "x": {
          "field": "p", "type": "quantitative",
          "scale": {"domain": [0, 1.25], "nice": false, "zero": false},
          "axis": {
            "values": [0,0.05,0.1,0.15,0.2,0.25,0.3,0.35,0.4,0.45,0.5,0.55,0.6,0.65,0.7,0.75,0.8,0.85,0.9,0.95,1,1.05,1.1,1.15,1.2,1.25],
            "labelExpr": "abs(datum.value*10 - round(datum.value*10)) < 0.001 ? format(datum.value, '.1f') : ''",
            "labelAngle": 90, "labelAlign": "left", "labelBaseline": "alphabetic",
            "labelPadding": 0, "tickSize": 11, "labelFontSize": 16,
            "labelOverlap": false, "labelFlush": false,
            "title": "(c)2026 OdG-RB", "titleFontSize": 7, "titleFontWeight": "bold",
            "titleAnchor": "start", "titleAlign": "left", "titleBaseline": "alphabetic",
            "titleX": -39, "titleY": 100
          }
        }
      },
      "layer": [
        {"mark": {"type": "errorbar", "thickness": 1.2}, "encoding": {"yError": {"field": "e"}}},
        {
          "mark": {"type": "point", "filled": false, "size": 100, "strokeWidth": 1.1, "opacity": 1},
          "encoding": {
            "stroke": {
              "field": "s", "type": "nominal",
              "scale": {
                "domain": ["s01","s02","s03","s04","s05","s06","s07","s08","s09","s10","s11","s12","s13","s00"],
                "range": ["#5cba47","#f7e600","#2f4da0","#a8308c","#62c6e0","#f7862b","#ee3431","#5cba47","#f7e600","#2f4da0","#a8308c","#62c6e0","#f7862b","#ee3431"]
              },
              "legend": {
                "title": null, "orient": "none", "legendX": 202, "legendY": 625, "direction": "horizontal",
                "values": ["s01","s02","s03","s04","s05","s06","s07","s08","s09","s10","s11","s12","s13"],
                "labelExpr": "datum.label == 's13' ? '\u200b\u00a0\u00a0Romain Montaigut et al.' : ''",
                "labelFontSize": 15, "labelLimit": 400, "symbolSize": 64, "symbolStrokeWidth": 1,
                "columnPadding": -3, "labelOffset": -4
              }
            },
            "shape": {
              "field": "s", "type": "nominal",
              "scale": {
                "domain": ["s01","s02","s03","s04","s05","s06","s07","s08","s09","s10","s11","s12","s13","s00"],
                "range": [
                  "square", "diamond",
                  "M-1,-1L1,1L1,-1L-1,1Z",
                  "triangle-up",
                  "M0,-1L0.235,-0.324L0.951,-0.309L0.38,0.124L0.588,0.809L0,0.4L-0.588,0.809L-0.38,0.124L-0.951,-0.309L-0.235,-0.324Z",
                  "diamond",
                  "M0,-1L0.951,-0.309L0.588,0.809L-0.588,0.809L-0.951,-0.309Z",
                  "triangle-down",
                  "M0,-1L0.25,-0.433L0.866,-0.5L0.5,0L0.866,0.5L0.25,0.433L0,1L-0.25,0.433L-0.866,0.5L-0.5,0L-0.866,-0.5L-0.25,-0.433Z",
                  "M-0.5,-0.866L0.5,-0.866L1,0L0.5,0.866L-0.5,0.866L-1,0Z",
                  "M-1,-1L1,-1L-1,1L1,1Z M-1,0L1,0",
                  "M0,-1L0,1M-0.87,-0.5L0.87,0.5M-0.87,0.5L0.87,-0.5",
                  "triangle-left",
                  "circle"
                ]
              },
              "legend": {
                "title": null, "orient": "none", "legendX": 202, "legendY": 625, "direction": "horizontal",
                "values": ["s01","s02","s03","s04","s05","s06","s07","s08","s09","s10","s11","s12","s13"],
                "labelExpr": "datum.label == 's13' ? '\u200b\u00a0\u00a0Romain Montaigut et al.' : ''",
                "labelFontSize": 15, "labelLimit": 400, "symbolSize": 64, "symbolStrokeWidth": 1,
                "columnPadding": -3, "labelOffset": -4
              }
            }
          }
        }
      ]
    },
    {
      "data": {"name": "obs"},
      "encoding": {
        "x": {
          "field": "p", "type": "quantitative",
          "scale": {"domain": [-1, 0.25], "nice": false, "zero": false},
          "axis": null
        }
      },
      "layer": [
        {"mark": {"type": "errorbar", "thickness": 1.2, "clip": true}, "encoding": {"yError": {"field": "e"}}},
        {
          "mark": {"type": "point", "filled": false, "size": 100, "strokeWidth": 1.1, "opacity": 1, "clip": true},
          "encoding": {
            "stroke": {"field": "s", "type": "nominal"},
            "shape": {"field": "s", "type": "nominal"}
          }
        }
      ]
    },
    {
      "data": {"name": "markers"},
      "mark": {"type": "text", "fontSize": 13, "align": "center", "baseline": "middle"},
      "encoding": {
        "x": {"field": "p", "type": "quantitative", "scale": {"domain": [0, 1.25], "nice": false, "zero": false}, "axis": null},
        "text": {"field": "t"},
        "color": {"value": "#222222"}
      }
    }
  ],
  "config": {
    "view": {"stroke": null},
    "font": "Liberation Sans",
    "axis": {
      "domainColor": "#000000", "tickColor": "#000000", "labelColor": "#222222",
      "titleColor": "#222222", "grid": false, "labelFont": "Liberation Sans", "titleFont": "Liberation Sans"
    },
    "legend": {"labelColor": "#222222", "labelFont": "Liberation Sans", "symbolFillColor": "transparent"}
  }
}
